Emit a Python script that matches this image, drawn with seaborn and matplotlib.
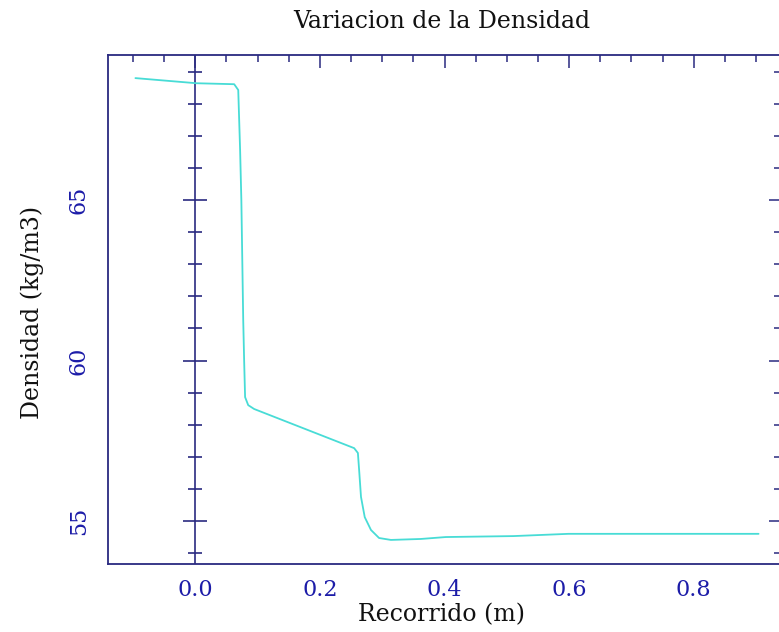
import numpy as np
import pandas as pd
import matplotlib
matplotlib.use("Agg")
import matplotlib.pyplot as plt
from matplotlib.ticker import MultipleLocator
import seaborn as sns

# Data
recorrido = [-0.096, 0.002, 0.0625, 0.069, 0.072, 0.074, 0.077, 0.0785, 0.080,
             0.085, 0.0945, 0.255, 0.261, 0.263, 0.266, 0.272, 0.282, 0.295,
             0.314, 0.362, 0.402, 0.511, 0.599, 0.904]
densidad = [68.80, 68.64, 68.61, 68.43, 66.56, 65.0, 61.26, 59.98, 58.86,
            58.61, 58.49, 57.27, 57.12, 56.59, 55.75, 55.12, 54.72, 54.47,
            54.41, 54.44, 54.50, 54.53, 54.60, 54.60]
x_ticks = [0.0, 0.2, 0.4, 0.6, 0.8]
x_tick_labels = ["0.0", "0.2", "0.4", "0.6", "0.8"]
y_ticks = [55, 60, 65]
y_minor = [54, 55, 56, 57, 58, 59, 60, 61, 62, 63, 64, 65, 66, 67, 68, 69]

sns.set_style("white")
plt.rcParams['font.family'] = ['DejaVu Serif']

navy = "#2a2a80"
tickblue = "#1c1ca8"
cyan = "#48dcd6"

fig = plt.figure(figsize=(7.79, 6.32), dpi=100)
ax = fig.add_axes([108/779, 1-564/632, (781-108)/779, (564-55)/632])

df = pd.DataFrame({"Recorrido": recorrido, "Densidad": densidad})
sns.lineplot(data=df, x="Recorrido", y="Densidad", ax=ax, sort=False,
             estimator=None, color=cyan, linewidth=1.3)

ax.set_xlim(-0.14, 0.94)
ax.set_ylim(53.66, 69.52)

# vertical axis line at x = 0 with crossing ticks
ax.axvline(0, color=navy, lw=1.2, zorder=1)
minor_only = [v for v in y_minor if v not in y_ticks]
ax.plot([0]*len(minor_only), minor_only, ls='', marker='_', ms=10, mew=1.2, color=navy, zorder=1)
ax.plot([0]*len(y_ticks), y_ticks, ls='', marker='_', ms=17, mew=1.2, color=navy, zorder=1)

ax.xaxis.set_major_locator(MultipleLocator(0.2))
ax.xaxis.set_minor_locator(MultipleLocator(0.05))
ax.yaxis.set_major_locator(MultipleLocator(5))
ax.yaxis.set_minor_locator(MultipleLocator(1))
ax.set_xticks(x_ticks)
ax.set_xticklabels(x_tick_labels)
ax.set_yticks(y_ticks)

ax.tick_params(axis='both', which='both', direction='in', colors=navy,
               top=True, right=True, labelcolor=tickblue, labelsize=16)
ax.tick_params(axis='both', which='major', length=9, width=1.1)
ax.tick_params(axis='both', which='minor', length=5, width=1.1)
ax.tick_params(axis='x', which='major', pad=11)
ax.tick_params(axis='y', which='major', pad=13)
for lab in ax.get_yticklabels():
    lab.set_rotation(90)
    lab.set_va('center')

for s in ax.spines.values():
    s.set_color(navy)
    s.set_linewidth(1.3)

ax.set_xlabel("Recorrido (m)", fontsize=17, color="#111111")
ax.set_ylabel("Densidad (kg/m3)", fontsize=17, color="#111111")
ax.xaxis.set_label_coords(0.496, -0.077)
ax.yaxis.set_label_coords(-0.095, 0.495)

fig.text(442/779, 1-22/632, "Variacion de la Densidad", ha='center', va='center',
         fontsize=17, color="#111111")

fig.savefig("out.png", dpi=100)
